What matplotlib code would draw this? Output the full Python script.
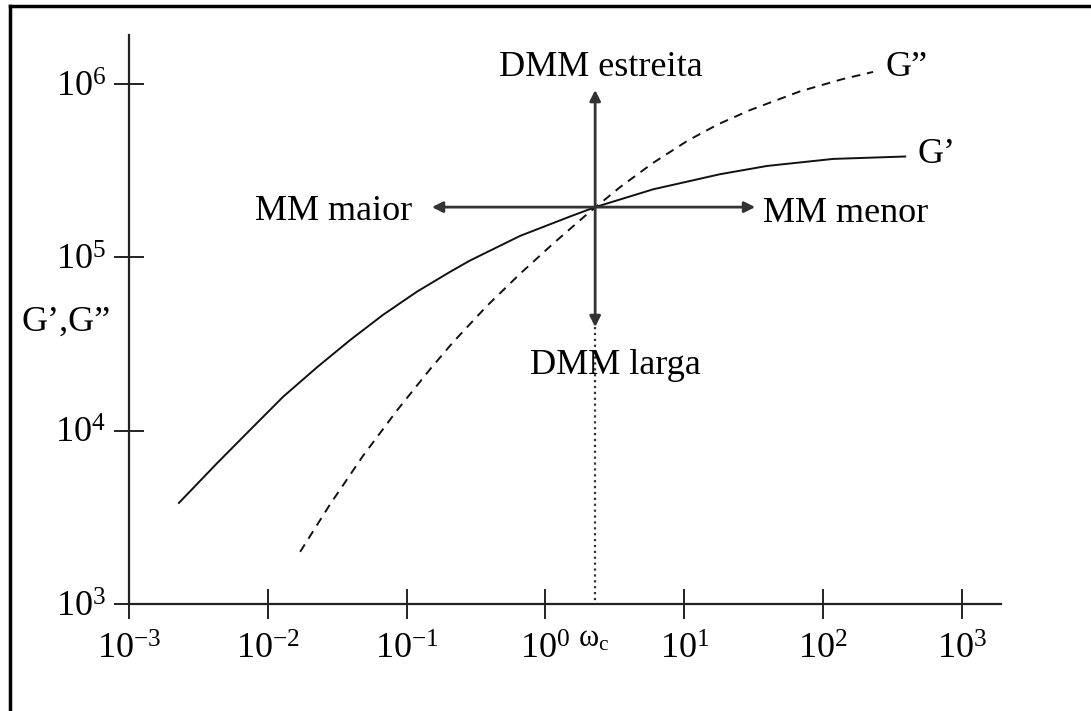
import matplotlib.pyplot as plt
from matplotlib.lines import Line2D
from matplotlib.ticker import NullLocator

plt.rcParams['font.family'] = ['Liberation Serif', 'DejaVu Serif']
plt.rcParams['mathtext.fontset'] = 'custom'
plt.rcParams['mathtext.rm'] = 'Liberation Serif'
plt.rcParams['mathtext.it'] = 'Liberation Serif:italic'

# G' (solid)
w_storage = [0.00229, 0.00431, 0.00745, 0.0129, 0.0226, 0.0391, 0.0676, 0.119, 0.206,
             0.286, 0.656, 1.50, 2.28, 5.96, 18.1, 39.5, 118, 390]
g_storage = [3830, 6490, 10100, 15700, 23200, 33300, 46600, 63500, 82600,
             95900, 133000, 172000, 195000, 247000, 302000, 337000, 370000, 382000]

# G'' (dashed)
w_loss = [0.0171, 0.0281, 0.0485, 0.0853, 0.148, 0.216, 0.379, 0.656, 1.135,
          2.00, 3.44, 5.96, 10.5, 17.5, 29.8, 68.2, 139, 229]
g_loss = [2000, 3760, 7160, 13100, 22700, 32400, 52500, 80400, 120000,
          178000, 254000, 351000, 470000, 586000, 708000, 908000, 1070000, 1175000]

# crossover point
w_c = 2.28
g_c = 195000

x_ticks = [1e-3, 1e-2, 1e-1, 1e0, 1e1, 1e2, 1e3]
x_labels = [r'$\mathrm{10}^{\mathrm{-3}}$', r'$\mathrm{10}^{\mathrm{-2}}$', r'$\mathrm{10}^{\mathrm{-1}}$',
            r'$\mathrm{10}^{0}$', r'$\mathrm{10}^{1}$', r'$\mathrm{10}^{2}$', r'$\mathrm{10}^{3}$']
y_ticks = [1e3, 1e4, 1e5, 1e6]
y_labels = [r'$\mathrm{10}^{3}$', r'$\mathrm{10}^{4}$', r'$\mathrm{10}^{5}$', r'$\mathrm{10}^{6}$']

fig = plt.figure(figsize=(10.91, 7.11), dpi=100)
ax = fig.add_axes([0.1182, 0.1505, 0.7993, 0.8003])
ax.set_xscale('log')
ax.set_yscale('log')
ax.set_xlim(1e-3, 1.91e3)
ax.set_ylim(1e3, 1.92e6)

ax.plot(w_storage, g_storage, color='#111111', lw=1.4)
ax.plot(w_loss, g_loss, color='#111111', lw=1.4, ls=(0, (4.5, 3.5)))

# arrows from the crossover
arr = dict(arrowstyle='-|>', color='#333333', lw=2.0, mutation_scale=16,
           shrinkA=0, shrinkB=0)
ax.annotate('', xy=(0.152, g_c), xytext=(w_c, g_c), arrowprops=arr)
ax.annotate('', xy=(32.4, g_c), xytext=(w_c, g_c), arrowprops=arr)
ax.annotate('', xy=(w_c, 925000), xytext=(w_c, g_c), arrowprops=arr)
ax.annotate('', xy=(w_c, 39600), xytext=(w_c, g_c), arrowprops=arr)
ax.plot([w_c, w_c], [39600, 1000], ls=':', lw=1.6, color='#333333')

fs = 26
ax.text(2.5, 1.24e6, 'DMM estreita', fontsize=fs, ha='center', va='center')
ax.text(3.17, 23900, 'DMM larga', fontsize=fs, ha='center', va='center')
ax.text(0.109, 183000, 'MM maior', fontsize=fs, ha='right', va='center')
ax.text(37, 180000, 'MM menor', fontsize=fs, ha='left', va='center')
ax.text(280, 1.24e6, 'G\u201d', fontsize=fs, ha='left', va='center')
ax.text(475, 390000, 'G\u2019', fontsize=fs, ha='left', va='center')
fig.text(0.020, 0.547, 'G\u2019,G\u201d', fontsize=fs, ha='left', va='center')
ax.text(1.72, 760, r'$\mathrm{\omega}_{\mathrm{c}}$', fontsize=22, ha='left', va='top')

ax.set_xticks(x_ticks)
ax.set_xticklabels(x_labels)
ax.set_yticks(y_ticks)
ax.set_yticklabels(y_labels)
ax.xaxis.set_minor_locator(NullLocator())
ax.yaxis.set_minor_locator(NullLocator())
ax.tick_params(direction='inout', length=21, width=1.4, labelsize=fs, pad=6, color='#222222')
ax.tick_params(axis='x', pad=11)

for side in ['top', 'right']:
    ax.spines[side].set_visible(False)
for side in ['left', 'bottom']:
    ax.spines[side].set_linewidth(1.6)
    ax.spines[side].set_color('#222222')

# page frame (only top and left edges visible)
fig.add_artist(Line2D([0.009, 0.009], [0, 0.991], transform=fig.transFigure, color='black', lw=2.5))
fig.add_artist(Line2D([0.009, 1], [0.991, 0.991], transform=fig.transFigure, color='black', lw=2.5))

fig.savefig('out.png', dpi=100)
